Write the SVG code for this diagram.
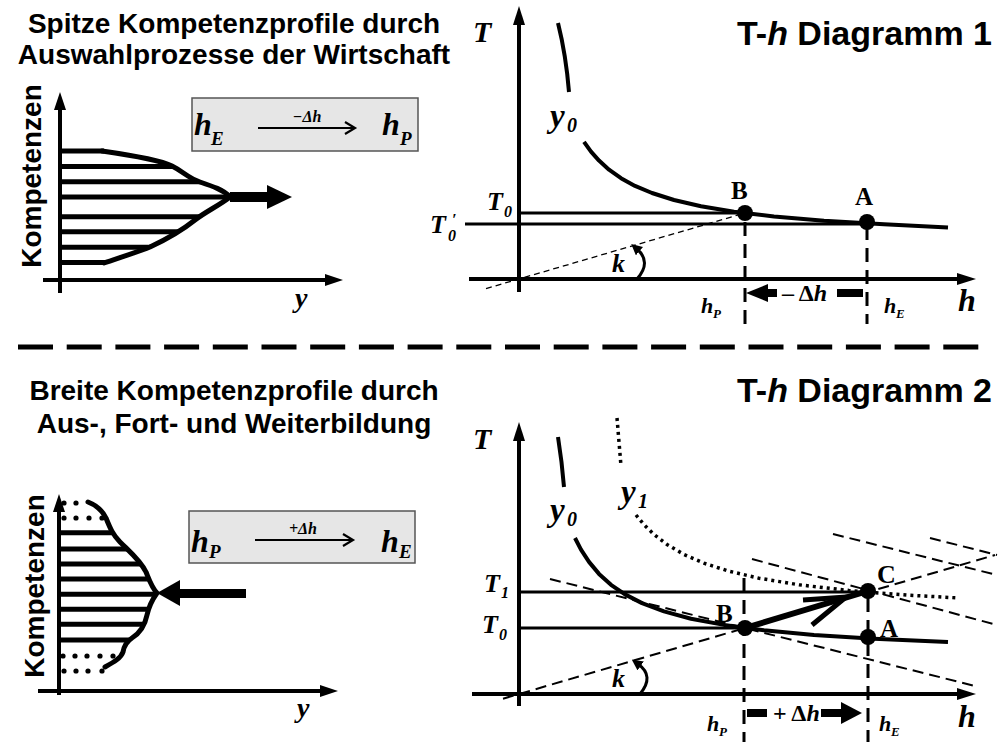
<svg xmlns="http://www.w3.org/2000/svg" width="999" height="745" viewBox="0 0 999 745">
<style>
.t{font-family:"Liberation Sans",Arial,sans-serif;font-weight:bold;fill:#000}
.m{font-family:"Liberation Serif","Times New Roman",serif;font-weight:bold;font-style:italic;fill:#000}
.r{font-family:"Liberation Serif","Times New Roman",serif;font-weight:bold;fill:#000}
.ax{stroke:#000;stroke-width:4;fill:none}
.hl{stroke:#000;stroke-width:3;fill:none}
.hatch{stroke:#000;stroke-width:5;fill:none}
.bd{stroke:#000;stroke-width:5;fill:none;stroke-linecap:round}
.cv{stroke:#000;stroke-width:4;fill:none;stroke-linejoin:round}
.dv{stroke:#000;stroke-width:3;stroke-dasharray:14 8;fill:none}
.dt{stroke:#000;stroke-width:1.3;stroke-dasharray:6 4;fill:none}
.db{stroke:#000;stroke-width:2;stroke-dasharray:11 6;fill:none}
.dot{stroke:#000;stroke-width:3.5;stroke-dasharray:3 4;fill:none}
.box{fill:#e6e6e6;stroke:#555;stroke-width:1.5}
.thin{stroke:#000;stroke-width:2.2;fill:none}
.karc{stroke:#000;stroke-width:3;fill:none}
</style>
<defs>
<clipPath id="clipTop"><path d="M55,151 L102,151 C130,155 160,160 172,166 C184,172 188,178 200,182 C212,186 224,190 230,197 C220,205 205,212 195,220 C180,232 165,240 150,247 C135,253 115,259 104,263 L55,263 Z"/></clipPath>
<clipPath id="clipBot"><path d="M55,502 L88,502 C96,505 102,510 106,518 C110,528 113,535 120,542 C130,552 140,560 146,572 C150,582 152,588 157,593 C152,600 149,606 147,615 C145,625 140,633 132,638 C126,642 124,646 123,652 C121,658 114,662 105,667 L55,667 Z"/></clipPath>
<marker id="ka" viewBox="0 0 10 10" refX="3" refY="5" markerWidth="11" markerHeight="11" orient="auto" markerUnits="userSpaceOnUse"><path d="M0,0 L10,5 L0,10 Z" fill="#000"/></marker>
</defs>

<!-- Titles -->
<g id="title-top-left">
<text class="t" x="234" y="33" font-size="28" text-anchor="middle">Spitze Kompetenzprofile durch</text>
<text class="t" x="234" y="64" font-size="28" text-anchor="middle">Auswahlprozesse der Wirtschaft</text>
</g>
<g id="title-bottom-left">
<text class="t" x="234" y="400" font-size="28" text-anchor="middle">Breite Kompetenzprofile durch</text>
<text class="t" x="234" y="433" font-size="28" text-anchor="middle">Aus-, Fort- und Weiterbildung</text>
</g>
<g id="title-top-right"><text class="t" x="992" y="45" font-size="34" text-anchor="end">T-<tspan font-style="italic">h</tspan> Diagramm 1</text></g>
<g id="title-bottom-right"><text class="t" x="992" y="402" font-size="34" text-anchor="end">T-<tspan font-style="italic">h</tspan> Diagramm 2</text></g>

<!-- Separator -->
<line x1="18" y1="347" x2="982" y2="347" stroke="#000" stroke-width="5" stroke-dasharray="35 13.7"/>

<!-- Top-left panel -->
<g id="profile-top">
<line class="ax" x1="60" y1="293" x2="60" y2="106"/>
<polygon points="60,92 54,110 66,110"/>
<line class="ax" x1="43" y1="280" x2="328" y2="280"/>
<polygon points="343,280 325,274 325,286"/>
<text class="t" font-size="28" text-anchor="middle" transform="translate(41,176) rotate(-90)">Kompetenzen</text>
<text class="m" x="295" y="307" font-size="28">y</text>
<line class="hatch" x1="58" y1="151" x2="104" y2="151"/>
<line class="hatch" x1="58" y1="262.5" x2="105" y2="262.5"/>
<g clip-path="url(#clipTop)">
<line class="hatch" x1="58" y1="166.5" x2="240" y2="166.5"/>
<line class="hatch" x1="58" y1="181.7" x2="240" y2="181.7"/>
<line class="hatch" x1="58" y1="197" x2="240" y2="197"/>
<line class="hatch" x1="58" y1="216.7" x2="240" y2="216.7"/>
<line class="hatch" x1="58" y1="231.7" x2="240" y2="231.7"/>
<line class="hatch" x1="58" y1="247.2" x2="240" y2="247.2"/>
</g>
<path class="bd" d="M102,151 C130,155 160,160 172,166 C184,172 188,178 200,182 C212,186 224,190 230,197 C220,205 205,212 195,220 C180,232 165,240 150,247 C135,253 115,259 104,263"/>
<rect x="230" y="192" width="38" height="10"/>
<polygon points="267,185 292,197 267,209"/>
</g>
<g id="box-top">
<rect class="box" x="192" y="98" width="226" height="53"/>
<text class="m" x="194" y="135" font-size="32">h</text>
<text class="m" x="211" y="145" font-size="19">E</text>
<line class="thin" x1="258" y1="128" x2="353" y2="128"/>
<polyline class="thin" points="345,122 355,128 345,134"/>
<text class="m" x="307" y="122" font-size="16" text-anchor="middle">−Δh</text>
<text class="m" x="382" y="135" font-size="32">h</text>
<text class="m" x="400" y="145" font-size="19">P</text>
</g>

<!-- Bottom-left panel -->
<g id="profile-bottom">
<line class="ax" x1="59" y1="695" x2="59" y2="508"/>
<polygon points="59,494 53,512 65,512"/>
<line class="ax" x1="38" y1="691" x2="323" y2="691"/>
<polygon points="338,691 320,685 320,697"/>
<text class="t" font-size="28" text-anchor="middle" transform="translate(44,586) rotate(-90)">Kompetenzen</text>
<text class="m" x="297" y="717" font-size="28">y</text>
<g clip-path="url(#clipBot)">
<line class="hatch" x1="58" y1="532.7" x2="170" y2="532.7"/>
<line class="hatch" x1="58" y1="549" x2="170" y2="549"/>
<line class="hatch" x1="58" y1="564" x2="170" y2="564"/>
<line class="hatch" x1="58" y1="579" x2="170" y2="579"/>
<line class="hatch" x1="58" y1="594.3" x2="170" y2="594.3"/>
<line class="hatch" x1="58" y1="609.3" x2="170" y2="609.3"/>
<line class="hatch" x1="58" y1="624.3" x2="170" y2="624.3"/>
<line class="hatch" x1="58" y1="640" x2="170" y2="640"/>
</g>
<path class="bd" d="M88,502 C96,505 102,510 106,518 C110,528 113,535 120,542 C130,552 140,560 146,572 C150,582 152,588 157,593 C152,600 149,606 147,615 C145,625 140,633 132,638 C126,642 124,646 123,652 C121,658 114,662 105,667"/>
<g fill="#000">
<circle cx="64" cy="503" r="2.6"/><circle cx="76" cy="503" r="2.6"/>
<circle cx="64" cy="518" r="2.6"/><circle cx="76" cy="518" r="2.6"/><circle cx="89" cy="518" r="2.6"/><circle cx="102" cy="518" r="2.6"/>
<circle cx="63" cy="656" r="2.6"/><circle cx="75" cy="656" r="2.6"/><circle cx="87" cy="656" r="2.6"/><circle cx="100" cy="656" r="2.6"/><circle cx="113" cy="656" r="2.6"/>
<circle cx="64" cy="671" r="2.6"/><circle cx="76" cy="671" r="2.6"/><circle cx="88" cy="671" r="2.6"/><circle cx="102" cy="671" r="2.6"/>
</g>
<polygon points="157,593 180,580 180,606"/>
<rect x="179" y="589" width="67" height="9"/>
</g>
<g id="box-bottom">
<rect class="box" x="189" y="511" width="226" height="52"/>
<text class="m" x="191" y="552" font-size="32">h</text>
<text class="m" x="209" y="558" font-size="19">P</text>
<line class="thin" x1="255" y1="540" x2="351" y2="540"/>
<polyline class="thin" points="343,534 353,540 343,546"/>
<text class="m" x="303" y="534" font-size="16" text-anchor="middle">+Δh</text>
<text class="m" x="381" y="552" font-size="32">h</text>
<text class="m" x="399" y="558" font-size="19">E</text>
</g>

<!-- Top-right diagram -->
<g id="diagram1">
<line class="ax" x1="519" y1="292" x2="519" y2="22"/>
<polygon points="519,6 513,25 525,25"/>
<line class="ax" x1="469" y1="279" x2="960" y2="279"/>
<polygon points="976,279 957,273 957,285"/>
<text class="m" x="473" y="42" font-size="30">T</text>
<text class="m" x="958" y="311" font-size="32">h</text>
<line class="hl" x1="519" y1="213" x2="745" y2="213"/>
<line class="hl" x1="465" y1="224" x2="867" y2="224"/>
<line class="dt" x1="486" y1="288.6" x2="745" y2="213"/>
<path class="cv" d="M558,23 Q566,55 569,92"/>
<polyline class="cv" points="584,141.8 591,151.6 599,160.6 609,169.7 621,178.2 635,185.9 652,193 674,200 701,206.2 734,211.7 774,216.5 824,220.7 884,224.2 948,227.5"/>
<line class="dv" x1="745" y1="222" x2="745" y2="324"/>
<line class="dv" x1="867" y1="226" x2="867" y2="324"/>
<circle cx="745" cy="213" r="8"/>
<circle cx="867" cy="222" r="8"/>
<text class="r" x="731" y="199" font-size="25">B</text>
<text class="r" x="855" y="205" font-size="25">A</text>
<text class="m" x="550" y="127" font-size="33">y</text>
<text class="m" x="567" y="132" font-size="20">0</text>
<text class="m" x="487" y="210" font-size="26">T</text>
<text class="m" x="504" y="217" font-size="16">0</text>
<text class="m" x="430" y="233" font-size="26">T</text>
<text class="m" x="448" y="241" font-size="16">0<tspan class="r" dx="-4" dy="-16">′</tspan></text>
<path class="karc" d="M637,279 Q652,262 637,249" marker-end="url(#ka)"/>
<text class="m" x="612" y="272" font-size="26">k</text>
<polygon points="746,293 768,284 768,302"/>
<rect x="767" y="289" width="10" height="8"/>
<text class="r" x="782" y="301" font-size="24">– Δ<tspan class="m">h</tspan></text>
<rect x="837" y="289" width="26" height="8"/>
<text class="m" x="701" y="313" font-size="22">h</text>
<text class="m" x="713" y="318" font-size="13">P</text>
<text class="m" x="884" y="313" font-size="22">h</text>
<text class="m" x="896" y="318" font-size="13">E</text>
</g>

<!-- Bottom-right diagram -->
<g id="diagram2">
<line class="ax" x1="519" y1="706" x2="519" y2="438"/>
<polygon points="519,422 513,441 525,441"/>
<line class="ax" x1="472" y1="694" x2="960" y2="694"/>
<polygon points="976,694 957,688 957,700"/>
<text class="m" x="473" y="449" font-size="30">T</text>
<text class="m" x="958" y="727" font-size="32">h</text>
<line class="hl" x1="519" y1="592" x2="868" y2="592"/>
<line class="hl" x1="519" y1="628" x2="745" y2="628"/>
<line class="db" x1="503" y1="698.7" x2="995" y2="555"/>
<line class="db" x1="550" y1="579" x2="975" y2="686"/>
<line class="db" x1="752" y1="559" x2="997" y2="625"/>
<line class="db" x1="833" y1="534" x2="997" y2="575"/>
<line class="db" x1="930" y1="538" x2="997" y2="555"/>
<path class="cv" d="M558,437 Q562,462 564,487"/>
<polyline class="cv" points="575,538 581,549.6 589,561.9 599,573.9 611,584.8 625,594.4 642,603.1 664,611.4 691,618.7 724,624.9 764,630.3 814,634.9 874,638.7 948,642"/>
<line class="dot" x1="617" y1="418" x2="621" y2="466"/>
<polyline class="dot" points="636,515 644,524.7 654,534.5 667,544.5 684,554.5 704,563.2 729,571.2 759,578.2 799,584.8 849,590.5 868,592.2 909,595.2 959,598"/>
<line class="dv" x1="744" y1="578" x2="744" y2="742"/>
<line class="dv" x1="868" y1="598" x2="868" y2="742"/>
<line stroke="#000" stroke-width="6" x1="745" y1="628" x2="868" y2="591"/>
<polyline stroke="#000" stroke-width="5" fill="none" points="803,600 846,597 812,625"/>
<circle cx="745" cy="628" r="8"/>
<circle cx="868" cy="591" r="8"/>
<circle cx="868" cy="637" r="8"/>
<text class="r" x="716" y="622" font-size="25">B</text>
<text class="r" x="877" y="583" font-size="26">C</text>
<text class="r" x="880" y="637" font-size="25">A</text>
<text class="m" x="550" y="521" font-size="33">y</text>
<text class="m" x="567" y="526" font-size="20">0</text>
<text class="m" x="621" y="503" font-size="33">y</text>
<text class="m" x="638" y="508" font-size="20">1</text>
<text class="m" x="484" y="592" font-size="26">T</text>
<text class="m" x="501" y="598" font-size="16">1</text>
<text class="m" x="482" y="633" font-size="26">T</text>
<text class="m" x="499" y="640" font-size="16">0</text>
<path class="karc" d="M640,694 Q655,676 638,664" marker-end="url(#ka)"/>
<text class="m" x="612" y="687" font-size="26">k</text>
<rect x="747" y="709" width="20" height="8"/>
<text class="r" x="773" y="721" font-size="24">+ Δ<tspan class="m">h</tspan></text>
<rect x="821" y="709" width="21" height="8"/>
<polygon points="841,702 862,713 841,724"/>
<text class="m" x="707" y="731" font-size="22">h</text>
<text class="m" x="719" y="736" font-size="13">P</text>
<text class="m" x="879" y="731" font-size="22">h</text>
<text class="m" x="891" y="736" font-size="13">E</text>
</g>
</svg>
